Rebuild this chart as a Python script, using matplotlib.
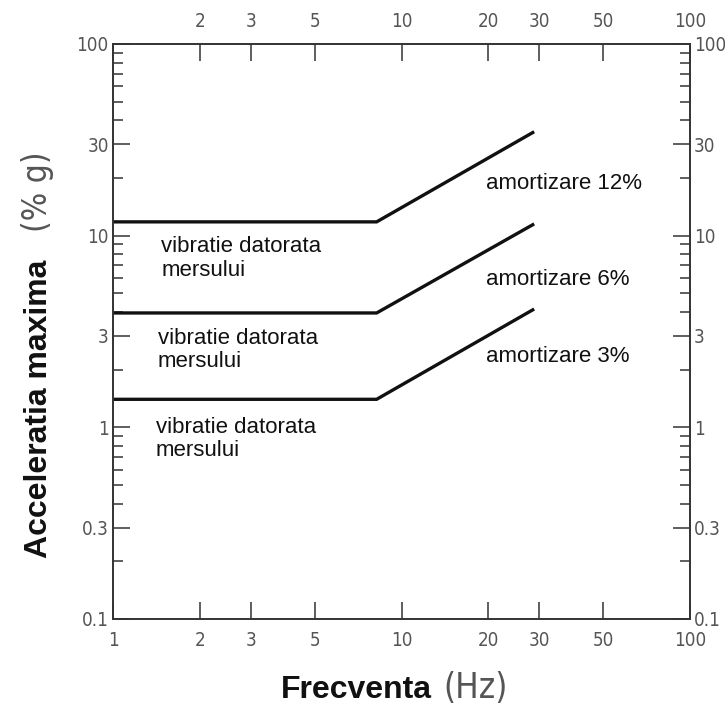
import matplotlib
matplotlib.use("Agg")
import matplotlib.pyplot as plt
from matplotlib import font_manager
from matplotlib.font_manager import FontProperties
from matplotlib.ticker import LogLocator, NullLocator, NullFormatter

# values
freq = [1, 8.2, 28.5]
accel_12 = [11.8, 11.8, 34.5]
accel_6 = [3.95, 3.95, 11.4]
accel_3 = [1.4, 1.4, 4.1]
damping_labels = ["amortizare 12%", "amortizare 6%", "amortizare 3%"]
walk_label = "vibratie datorata\nmersului"

x_ticks = [1, 2, 3, 5, 10, 20, 30, 50, 100]
x_labels = ["1", "2", "3", "5", "10", "20", "30", "50", "100"]
y_ticks = [0.1, 0.3, 1, 3, 10, 30, 100]
y_labels = ["0.1", "0.3", "1", "3", "10", "30", "100"]

#fonts: a narrow, light face for the numbers if one is there
fonts = font_manager.fontManager.ttflist
names = {f.name for f in fonts}
sans = "Liberation Sans" if "Liberation Sans" in names else "DejaVu Sans"

def pick_narrow():
    narrow = [f for f in fonts
              if f.stretch in ("condensed", "semi-condensed", "extra-condensed", "ultra-condensed")
              or "Narrow" in f.name or "Condensed" in f.name]
    narrow = [f for f in narrow if f.style == "normal"]
    if not narrow:
        return None
    def wt(f):
        w = f.weight if isinstance(f.weight, int) else 400
        return abs(w - 350)
    narrow.sort(key=wt)
    return narrow[0].fname

narrow_file = pick_narrow()
if narrow_file:
    def num_font(size):
        return FontProperties(fname=narrow_file, size=size)
else:
    def num_font(size):
        return FontProperties(family="DejaVu Sans", size=size * 0.85)

fig = plt.figure(figsize=(7.25, 7.07), dpi=100)
ax = fig.add_axes([0.1559, 0.1245, 0.7958, 0.8133])
ax.set_xscale("log")
ax.set_yscale("log")
ax.set_xlim(1, 100)
ax.set_ylim(0.1, 100)

for acc in (accel_12, accel_6, accel_3):
    ax.plot(freq, acc, color="#111111", lw=2.4, solid_joinstyle="miter")

#ticks
ax.set_xticks(x_ticks)
ax.set_xticklabels(x_labels)
ax.xaxis.set_minor_locator(NullLocator())
ax.set_yticks(y_ticks)
ax.set_yticklabels(y_labels)
ax.yaxis.set_minor_locator(LogLocator(base=10, subs=[2, 4, 5, 6, 7, 8, 9]))
ax.yaxis.set_minor_formatter(NullFormatter())

ax.tick_params(which="both", direction="in", top=True, right=True,
               labeltop=True, labelright=True, color="#333333", width=1.1,
               labelcolor="#555555")
ax.tick_params(which="major", length=12)
ax.tick_params(which="minor", length=7)
ax.tick_params(axis="x", which="major", pad=9)
ax.tick_params(axis="y", which="major", pad=3)

for t in ax.xaxis.get_major_ticks() + ax.yaxis.get_major_ticks():
    t.label1.set_fontproperties(num_font(13.5))
    t.label2.set_fontproperties(num_font(13.5))
ax.xaxis.get_major_ticks()[0].label2.set_visible(False)

for sp in ax.spines.values():
    sp.set_color("#333333")
    sp.set_linewidth(1.4)

#annotations
txt = dict(family=sans, fontsize=16, color="#111111", transform=ax.transAxes)
for y, lbl in zip([0.757, 0.591, 0.457], damping_labels):
    ax.text(0.646, y, lbl, va="center", ha="left", **txt)
for x, y in zip([0.084, 0.078, 0.074], [0.627, 0.468, 0.313]):
    ax.text(x, y, walk_label, va="center", ha="left", linespacing=1.15, **txt)

#axis titles
fig.text(0.596, 0.0127, "Frecventa", family=sans, weight="bold", fontsize=23,
         color="#111111", ha="right", va="baseline")
fig.text(0.611, 0.0127, "(Hz)", fontproperties=num_font(25), color="#555555",
         ha="left", va="baseline")
fig.text(0.065, 0.211, "Acceleratia maxima", family=sans, weight="bold", fontsize=23,
         color="#111111", ha="left", va="baseline", rotation=90, rotation_mode="anchor")
fig.text(0.065, 0.672, "(% g)", fontproperties=num_font(24), color="#555555",
         ha="left", va="baseline", rotation=90, rotation_mode="anchor")

fig.savefig("out.png", dpi=100)
